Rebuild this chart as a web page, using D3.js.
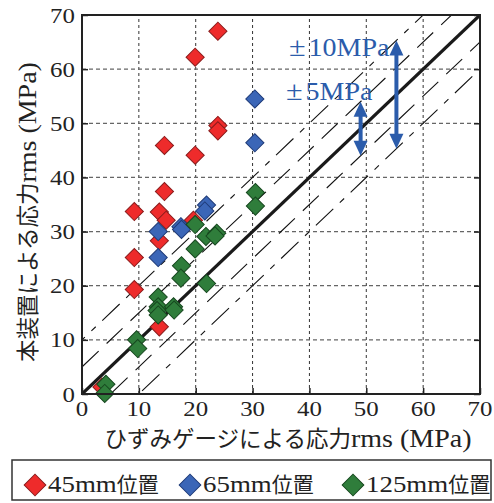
<!DOCTYPE html>
<html>
<head>
<meta charset="utf-8">
<script src="https://cdn.jsdelivr.net/npm/d3@7"></script>
<style>
  body { margin: 0; background: #fff; }
</style>
</head>
<body>
<svg id="chart" width="494" height="503"></svg>
<script>
// values, [gauge, device] in MPa
const pos45 = [
  [23.9, 67.0], [19.9, 62.2], [23.9, 49.6], [23.9, 48.6], [14.5, 45.9], [19.9, 44.1],
  [14.5, 37.4], [9.2, 33.7], [13.6, 33.6], [14.8, 32.1], [19.6, 32.1], [13.6, 28.3],
  [9.2, 25.2], [9.2, 19.3], [13.6, 12.4], [3.5, 1.3]
];
const pos65 = [
  [30.4, 54.5], [30.4, 46.4], [21.9, 34.9], [21.6, 33.8], [17.4, 30.9], [17.5, 30.4],
  [13.4, 30.0], [13.4, 25.2]
];
const pos125 = [
  [30.5, 37.2], [30.5, 34.7], [19.9, 31.3], [21.8, 29.1], [23.7, 29.7], [23.4, 29.2],
  [19.9, 26.8], [17.5, 23.7], [17.4, 21.4], [21.9, 20.4], [13.4, 17.9], [13.4, 16.1],
  [13.2, 15.4], [16.1, 16.1], [16.2, 15.5], [13.4, 14.6], [9.6, 10.0], [9.8, 8.4],
  [4.2, 1.8], [4.0, 0.1]
];
const ticks = [0, 10, 20, 30, 40, 50, 60, 70];
const bands = [5, 10];
const seriesNames = ["45mm", "65mm", "125mm"];

const JP = "'Noto Sans CJK JP', sans-serif";
const SERIF = "'Liberation Serif', 'Times New Roman', serif";
const K = 1.12; // the serif text in the picture is a bit wider than Times

const svg = d3.select("#chart");
const x = d3.scaleLinear().domain([0, 70]).range([82, 480]);
const y = d3.scaleLinear().domain([0, 70]).range([394, 15]);

const colours = [
  { fill: "#ee2b2b", stroke: "#8a1c1c" },
  { fill: "#3b66b7", stroke: "#1f3b78" },
  { fill: "#2f7d3b", stroke: "#17481f" }
];

// stretch serif text sideways
function widen(t, k) {
  const w = t.node().getComputedTextLength() * k;
  t.attr("textLength", w).attr("lengthAdjust", "spacingAndGlyphs");
  return w;
}

// lay out a run of japanese + serif pieces, returns total width
function mixed(g, parts) {
  let cx = 0;
  parts.forEach(p => {
    const t = g.append("text")
      .attr("x", cx)
      .attr("font-family", p.jp ? JP : SERIF)
      .attr("font-size", p.size)
      .attr("fill", p.fill || "#222")
      .text(p.t);
    cx += (p.jp ? t.node().getComputedTextLength() : widen(t, K)) + (p.gap || 0);
  });
  return cx;
}

svg.append("defs").append("clipPath").attr("id", "plot")
  .append("rect")
  .attr("x", x(0)).attr("y", y(70))
  .attr("width", x(70) - x(0)).attr("height", y(0) - y(70));

// grid
const grid = svg.append("g");
grid.selectAll(".vg").data(ticks.slice(1, -1)).enter().append("line")
  .attr("x1", d => x(d)).attr("x2", d => x(d))
  .attr("y1", y(0)).attr("y2", y(70))
  .attr("stroke", "#333").attr("stroke-width", 1).attr("stroke-dasharray", "3,3");
grid.selectAll(".hg").data(ticks.slice(1, -1)).enter().append("line")
  .attr("x1", x(0)).attr("x2", x(70))
  .attr("y1", d => y(d)).attr("y2", d => y(d))
  .attr("stroke", "#666").attr("stroke-width", 1.2).attr("stroke-dasharray", "4,3");

// ±5 / ±10 band lines and the 1:1 line
const diag = svg.append("g").attr("clip-path", "url(#plot)");
bands.forEach(b => {
  [-b, b].forEach(off => {
    diag.append("line")
      .attr("x1", x(-20)).attr("y1", y(-20 + off))
      .attr("x2", x(90)).attr("y2", y(90 + off))
      .attr("stroke", "#111").attr("stroke-width", 1.1)
      .attr("stroke-dasharray", b === 5 ? "22,11" : "24,9,6,9")
      .attr("stroke-dashoffset", off > 0 ? 7 : 0);
  });
});
diag.append("line")
  .attr("x1", x(0)).attr("y1", y(0))
  .attr("x2", x(70)).attr("y2", y(70))
  .attr("stroke", "#1a1a1a").attr("stroke-width", 3.2);

// points
const diamond = d3.symbol().type(d3.symbolSquare).size(165);
[pos45, pos65, pos125].forEach((pts, i) => {
  svg.append("g").selectAll("path").data(pts).enter().append("path")
    .attr("d", diamond)
    .attr("transform", d => `translate(${x(d[0])},${y(d[1])}) rotate(45)`)
    .attr("fill", colours[i].fill)
    .attr("stroke", colours[i].stroke)
    .attr("stroke-width", 1);
});

// frame + inward ticks
svg.append("rect")
  .attr("x", x(0)).attr("y", y(70))
  .attr("width", x(70) - x(0)).attr("height", y(0) - y(70))
  .attr("fill", "none").attr("stroke", "#222").attr("stroke-width", 2);
svg.append("g").attr("transform", `translate(0,${y(0)})`)
  .call(d3.axisBottom(x).tickValues(ticks).tickSize(-6).tickFormat(""))
  .call(g => g.select(".domain").remove());
svg.append("g").attr("transform", `translate(${x(0)},0)`)
  .call(d3.axisLeft(y).tickValues(ticks).tickSize(-6).tickFormat(""))
  .call(g => g.select(".domain").remove());
svg.append("g").attr("transform", `translate(${x(70)},0)`)
  .call(d3.axisRight(y).tickValues(ticks).tickSize(-6).tickFormat(""))
  .call(g => g.select(".domain").remove());
svg.selectAll(".tick line").attr("stroke", "#222").attr("stroke-width", 1.5);

// tick labels
ticks.forEach(v => {
  const tx = svg.append("text")
    .attr("x", x(v)).attr("y", 416)
    .attr("text-anchor", "middle")
    .attr("font-family", SERIF).attr("font-size", 22).attr("fill", "#222")
    .text(v);
  widen(tx, 1.13);
  const ty = svg.append("text")
    .attr("x", 75).attr("y", y(v) + 7.5)
    .attr("text-anchor", "end")
    .attr("font-family", SERIF).attr("font-size", 22).attr("fill", "#222")
    .text(v);
  widen(ty, 1.13);
});

// axis titles
const xt = svg.append("g");
const xw = mixed(xt, [
  { t: "ひずみゲージによる応力", jp: true, size: 22.5 },
  { t: "rms (MPa)", size: 25 }
]);
xt.attr("transform", `translate(${288 - xw / 2},447)`);

const yt = svg.append("g").attr("transform", "translate(36,212) rotate(-90)");
const ytIn = yt.append("g");
const yw = mixed(ytIn, [
  { t: "本装置による応力", jp: true, size: 22.5 },
  { t: "rms (MPa)", size: 25 }
]);
ytIn.attr("transform", `translate(${-yw / 2},0)`);

// tolerance arrows
const blue = "#2b5cab";
const arrows = [
  { at: 55.3, band: 10, label: "10MPa", tx: 289, ty: 56 },
  { at: 49, band: 5, label: "5MPa", tx: 286, ty: 100 }
];
arrows.forEach(a => {
  const xa = x(a.at), top = y(a.at + a.band), bot = y(a.at - a.band);
  const head = 15, hw = 7;
  svg.append("line")
    .attr("x1", xa).attr("x2", xa)
    .attr("y1", top + head - 1).attr("y2", bot - head + 1)
    .attr("stroke", blue).attr("stroke-width", 4);
  svg.append("path")
    .attr("d", `M${xa},${top} L${xa + hw},${top + head} L${xa - hw},${top + head} Z`)
    .attr("fill", blue);
  svg.append("path")
    .attr("d", `M${xa},${bot} L${xa + hw},${bot - head} L${xa - hw},${bot - head} Z`)
    .attr("fill", blue);
  const g = svg.append("g").attr("transform", `translate(${a.tx},${a.ty})`);
  mixed(g, [
    { t: "±", size: 27, fill: blue, gap: 3 },
    { t: a.label, size: 25, fill: blue }
  ]);
});

// legend
svg.append("rect")
  .attr("x", 12).attr("y", 460).attr("width", 479).attr("height", 40)
  .attr("fill", "#fff").attr("stroke", "#333").attr("stroke-width", 1.5);
const legendX = [35, 190, 353];
const legendDiamond = d3.symbol().type(d3.symbolSquare).size(235);
seriesNames.forEach((name, i) => {
  svg.append("path")
    .attr("d", legendDiamond)
    .attr("transform", `translate(${legendX[i]},485) rotate(45)`)
    .attr("fill", colours[i].fill)
    .attr("stroke", colours[i].stroke)
    .attr("stroke-width", 1);
  const g = svg.append("g").attr("transform", `translate(${legendX[i] + 13},492)`);
  mixed(g, [
    { t: name, size: 24 },
    { t: "位置", jp: true, size: 21 }
  ]);
});
</script>
</body>
</html>
